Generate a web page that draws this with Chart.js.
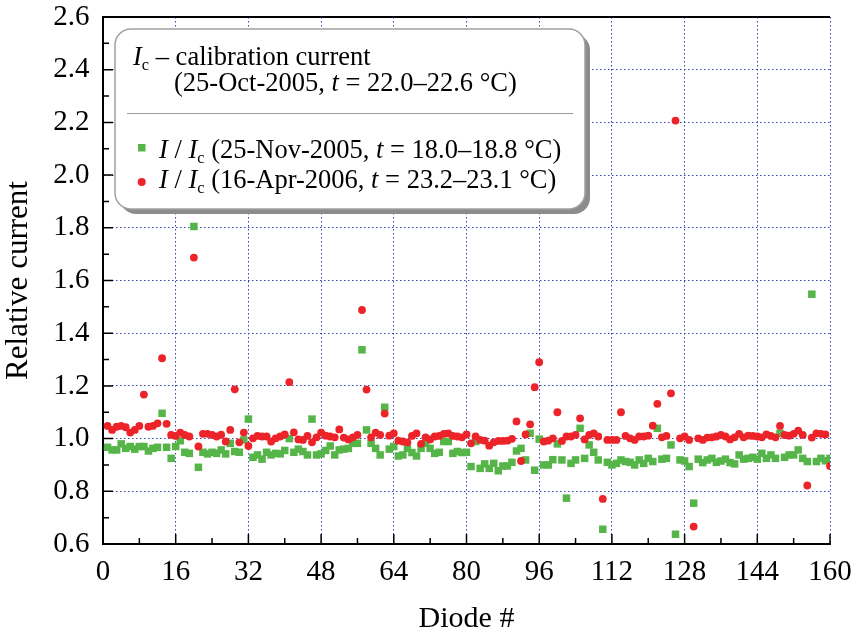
<!DOCTYPE html>
<html>
<head>
<meta charset="utf-8">
<script src="https://cdn.jsdelivr.net/npm/chart.js@4.4.0/dist/chart.umd.min.js"></script>
<style>
  html, body { margin: 0; padding: 0; background: #fff; }
</style>
</head>
<body>
<canvas id="myChart" width="853" height="635"></canvas>
<script>
// diode numbers 1..160
const diodes = [
  1, 2, 3, 4, 5, 6, 7, 8, 9, 10, 11, 12, 13, 14, 15, 16, 17, 18, 19, 20,
  21, 22, 23, 24, 25, 26, 27, 28, 29, 30, 31, 32, 33, 34, 35, 36, 37, 38, 39, 40,
  41, 42, 43, 44, 45, 46, 47, 48, 49, 50, 51, 52, 53, 54, 55, 56, 57, 58, 59, 60,
  61, 62, 63, 64, 65, 66, 67, 68, 69, 70, 71, 72, 73, 74, 75, 76, 77, 78, 79, 80,
  81, 82, 83, 84, 85, 86, 87, 88, 89, 90, 91, 92, 93, 94, 95, 96, 97, 98, 99, 100,
  101, 102, 103, 104, 105, 106, 107, 108, 109, 110, 111, 112, 113, 114, 115, 116, 117, 118, 119, 120,
  121, 122, 123, 124, 125, 126, 127, 128, 129, 130, 131, 132, 133, 134, 135, 136, 137, 138, 139, 140,
  141, 142, 143, 144, 145, 146, 147, 148, 149, 150, 151, 152, 153, 154, 155, 156, 157, 158, 159, 160
]

// I / Ic, 25-Nov-2005
const novRatio = [
  0.967, 0.957, 0.957, 0.980, 0.963, 0.970, 0.960, 0.970, 0.970, 0.953,
  0.963, 0.967, 1.096, 0.967, 0.925, 0.970, 0.992, 0.948, 0.944, 1.805,
  0.891, 0.948, 0.942, 0.948, 0.944, 0.957, 0.942, 0.982, 0.951, 0.948,
  0.995, 1.074, 0.929, 0.938, 0.922, 0.948, 0.938, 0.944, 0.942, 0.955,
  1.000, 0.948, 0.960, 0.951, 0.938, 1.074, 0.938, 0.942, 0.955, 0.972,
  0.938, 0.957, 0.960, 0.963, 0.982, 0.982, 1.337, 1.033, 0.982, 0.963,
  0.938, 1.119, 0.960, 0.970, 0.934, 0.938, 0.963, 0.947, 0.934, 0.963,
  0.982, 0.963, 0.944, 0.948, 0.989, 0.989, 0.944, 0.951, 0.947, 0.948,
  0.894, 0.989, 0.887, 0.904, 0.887, 0.906, 0.878, 0.896, 0.896, 0.910,
  0.953, 0.963, 0.919, 1.020, 0.880, 0.998, 0.900, 0.900, 0.920, 0.980,
  0.919, 0.774, 0.906, 0.919, 1.039, 0.925, 0.976, 0.948, 0.919, 0.656,
  0.910, 0.900, 0.906, 0.919, 0.913, 0.910, 0.900, 0.919, 0.906, 0.925,
  0.913, 1.039, 0.922, 0.925, 0.976, 0.637, 0.919, 0.915, 0.894, 0.755,
  0.922, 0.909, 0.919, 0.925, 0.910, 0.915, 0.922, 0.909, 0.904, 0.938,
  0.922, 0.925, 0.929, 0.922, 0.944, 0.925, 0.938, 0.925, 1.020, 0.929,
  0.938, 0.938, 0.957, 0.925, 0.913, 1.548, 0.913, 0.925, 0.916, 0.925
]

// I / Ic, 16-Apr-2006
const aprRatio = [
  1.048, 1.033, 1.045, 1.048, 1.043, 1.023, 1.033, 1.048, 1.167, 1.045,
  1.048, 1.058, 1.305, 1.056, 1.014, 1.010, 1.023, 1.014, 1.008, 1.687,
  0.970, 1.018, 1.018, 1.014, 1.008, 1.015, 0.989, 1.033, 1.187, 0.986,
  1.023, 0.972, 1.001, 1.010, 1.008, 1.008, 0.989, 1.001, 1.008, 1.016,
  1.214, 1.024, 0.997, 0.995, 1.010, 0.986, 1.005, 1.023, 1.011, 1.008,
  1.005, 1.035, 1.004, 0.997, 1.005, 1.014, 1.488, 1.186, 1.005, 1.023,
  1.014, 1.095, 1.011, 1.020, 0.992, 0.989, 0.986, 1.010, 1.020, 0.980,
  1.005, 0.997, 1.008, 1.010, 1.018, 1.020, 1.010, 1.008, 1.005, 1.016,
  0.982, 1.008, 0.995, 0.992, 0.973, 0.986, 0.991, 0.991, 0.992, 0.999,
  1.065, 0.915, 1.016, 1.054, 1.195, 1.290, 0.989, 0.992, 1.001, 1.100,
  0.991, 1.008, 1.008, 1.014, 1.077, 0.997, 1.014, 1.020, 1.008, 0.771,
  0.995, 0.995, 0.995, 1.100, 1.010, 1.001, 0.995, 1.008, 1.008, 1.011,
  1.049, 1.132, 1.005, 1.010, 1.172, 2.207, 1.001, 1.008, 0.995, 0.666,
  1.001, 0.995, 1.004, 1.005, 1.008, 1.014, 1.008, 0.997, 1.005, 1.018,
  1.005, 1.011, 1.010, 1.008, 1.005, 1.016, 1.010, 1.005, 1.048, 1.014,
  1.011, 1.018, 1.030, 1.014, 0.822, 1.004, 1.020, 1.018, 1.016, 0.896
]

const xTicks = [0, 16, 32, 48, 64, 80, 96, 112, 128, 144, 160]
const yTicks = ['0.6', '0.8', '1.0', '1.2', '1.4', '1.6', '1.8', '2.0', '2.2', '2.4', '2.6']

const green = '#55b548'
const red = '#ec2328'
const gridBlue = 'rgba(40, 60, 180, 0.95)'
const serif = '"Liberation Serif", "Times New Roman", serif'

// short inward tick marks on the left and bottom axes, plus the top frame line
const tickMarks = {
  id: 'tickMarks',
  afterDraw(chart) {
    const { ctx, chartArea: a, scales: { x, y } } = chart
    ctx.save()
    ctx.strokeStyle = '#000'
    ctx.lineWidth = 1.5
    ctx.beginPath()
    for (let v = 0; v <= 160; v += 8) {
      const px = x.getPixelForValue(v)
      const len = v % 16 === 0 ? 10 : 6
      ctx.moveTo(px, a.bottom)
      ctx.lineTo(px, a.bottom - len)
    }
    for (let k = 6; k <= 26; k++) {
      const py = y.getPixelForValue(k / 10)
      const len = k % 2 === 0 ? 10 : 6
      ctx.moveTo(a.left, py)
      ctx.lineTo(a.left + len, py)
    }
    ctx.stroke()
    ctx.lineWidth = 2
    ctx.beginPath()
    ctx.moveTo(a.left - 1, a.top)
    ctx.lineTo(a.right, a.top)
    ctx.stroke()
    ctx.restore()
  }
}

// rich text helper: runs of [text, style] with n = normal, i = italic, s = subscript
function drawRuns(ctx, x, y, runs, size) {
  runs.forEach(([t, st]) => {
    let fs = size, dy = 0, style = ''
    if (st === 'i') style = 'italic '
    if (st === 's') { fs = size * 0.62; dy = size * 0.2 }
    ctx.font = style + fs + 'px ' + serif
    ctx.fillText(t, x, y + dy)
    x += ctx.measureText(t).width
  })
}

function roundRect(ctx, x, y, w, h, r) {
  ctx.beginPath()
  ctx.moveTo(x + r, y)
  ctx.arcTo(x + w, y, x + w, y + h, r)
  ctx.arcTo(x + w, y + h, x, y + h, r)
  ctx.arcTo(x, y + h, x, y, r)
  ctx.arcTo(x, y, x + w, y, r)
  ctx.closePath()
}

const legendBox = {
  id: 'legendBox',
  afterDraw(chart) {
    const ctx = chart.ctx
    const bx = 115, by = 29, bw = 470, bh = 180
    ctx.save()
    ctx.fillStyle = '#8c8c8c'
    roundRect(ctx, bx + 5, by + 5, bw, bh, 16)
    ctx.fill()
    ctx.fillStyle = '#fff'
    roundRect(ctx, bx, by, bw, bh, 16)
    ctx.fill()
    ctx.strokeStyle = '#a0a0a0'
    ctx.lineWidth = 1.5
    ctx.stroke()

    ctx.strokeStyle = '#9a9a9a'
    ctx.lineWidth = 1
    ctx.beginPath()
    ctx.moveTo(127, 113.5)
    ctx.lineTo(573, 113.5)
    ctx.stroke()

    ctx.fillStyle = '#000'
    ctx.textBaseline = 'alphabetic'
    ctx.textAlign = 'left'
    const fs = 26.5
    drawRuns(ctx, 133, 65, [['I', 'i'], ['c', 's'], [' \u2013 calibration current', 'n']], fs)
    drawRuns(ctx, 174, 91, [['(25-Oct-2005, ', 'n'], ['t', 'i'], [' = 22.0\u201322.6 \u00b0C)', 'n']], fs)
    drawRuns(ctx, 159, 158, [['I', 'i'], [' / ', 'n'], ['I', 'i'], ['c', 's'], [' (25-Nov-2005, ', 'n'], ['t', 'i'], [' = 18.0\u201318.8 \u00b0C)', 'n']], fs)
    drawRuns(ctx, 159, 188, [['I', 'i'], [' / ', 'n'], ['I', 'i'], ['c', 's'], [' (16-Apr-2006, ', 'n'], ['t', 'i'], [' = 23.2\u201323.1 \u00b0C)', 'n']], fs)

    ctx.fillStyle = green
    ctx.fillRect(138, 144, 7.5, 7.5)
    ctx.fillStyle = red
    ctx.beginPath()
    ctx.arc(141.7, 182, 4, 0, Math.PI * 2)
    ctx.fill()
    ctx.restore()
  }
}

const ctx = document.getElementById('myChart').getContext('2d')
const myChart = new Chart(ctx, {
  type: 'scatter',
  data: {
    datasets: [{
      label: 'I / Ic (25-Nov-2005, t = 18.0-18.8 C)',
      data: diodes.map((d, i) => ({ x: d, y: novRatio[i] })),
      pointStyle: 'rect',
      pointRadius: 5.3,
      borderWidth: 0,
      backgroundColor: green,
      order: 1
    }, {
      label: 'I / Ic (16-Apr-2006, t = 23.2-23.1 C)',
      data: diodes.map((d, i) => ({ x: d, y: aprRatio[i] })),
      pointStyle: 'circle',
      pointRadius: 3.9,
      borderWidth: 0,
      backgroundColor: red,
      order: 0
    }]
  },
  options: {
    responsive: false,
    animation: false,
    layout: { padding: { left: 0, right: 23, top: 17, bottom: 0 } },
    plugins: {
      legend: { display: false },
      tooltip: { enabled: false }
    },
    scales: {
      x: {
        type: 'linear',
        min: 0,
        max: 160,
        afterBuildTicks: s => { s.ticks = xTicks.map(v => ({ value: v })) },
        afterFit: s => { s.height = 91; s.paddingLeft = 0; s.paddingRight = 0 },
        ticks: {
          color: '#000',
          font: { family: serif, size: 29, lineHeight: 1 },
          padding: 14,
          maxRotation: 0,
          autoSkip: false
        },
        grid: { color: gridBlue, lineWidth: 1, drawTicks: false },
        border: { color: '#000', width: 2, dash: [1.5, 2.5] },
        title: {
          display: true,
          text: 'Diode #',
          color: '#000',
          font: { family: serif, size: 30, lineHeight: 1 },
          padding: { top: 0, bottom: 1 }
        }
      },
      y: {
        min: 0.6,
        max: 2.6,
        afterBuildTicks: s => { s.ticks = yTicks.map(v => ({ value: parseFloat(v) })) },
        afterFit: s => { s.width = 103; s.paddingTop = 0; s.paddingBottom = 0 },
        ticks: {
          color: '#000',
          font: { family: serif, size: 29, lineHeight: 1 },
          padding: 13.5,
          callback: (v, i) => yTicks[i]
        },
        grid: { color: gridBlue, lineWidth: 1, drawTicks: false },
        border: { color: '#000', width: 2, dash: [1.5, 2.5] },
        title: {
          display: true,
          text: 'Relative current',
          color: '#000',
          font: { family: serif, size: 31, lineHeight: 1 },
          padding: { top: 3, bottom: 0 }
        }
      }
    }
  },
  plugins: [tickMarks, legendBox]
})
</script>
</body>
</html>
